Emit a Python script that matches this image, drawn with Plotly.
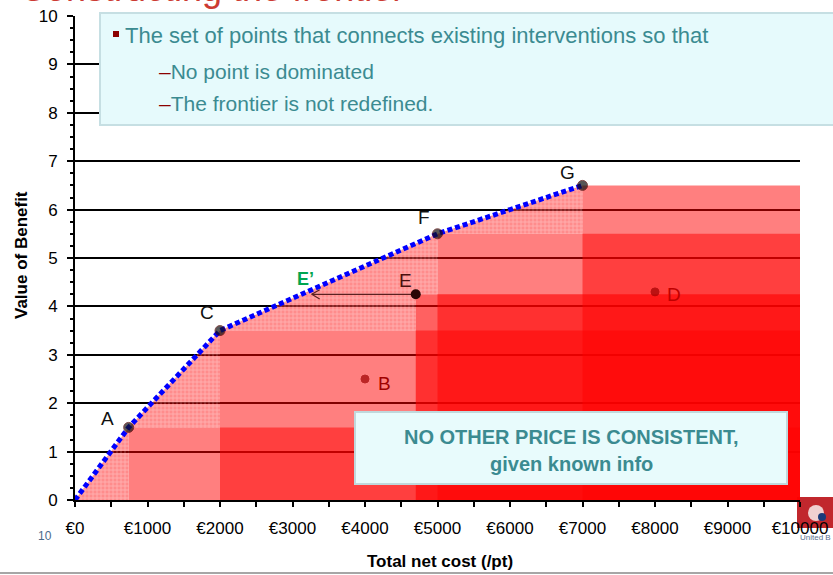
import plotly.graph_objects as go

# ---------------- data ----------------
point_labels = ["A", "B", "C", "D", "E", "F", "G"]
point_cost = [740, 4000, 2000, 8000, 4700, 5000, 7000]
point_benefit = [1.5, 2.5, 3.5, 4.3, 4.25, 5.5, 6.5]
point_on_frontier = [True, False, True, False, False, True, True]

frontier_cost = [0, 740, 2000, 5000, 7000]
frontier_benefit = [0, 1.5, 3.5, 5.5, 6.5]

# points whose dominated region is shaded, with shade strength
region_labels = ["A", "C", "E", "F", "G"]
region_opacity = [0.5, 0.5, 0.62, 0.5, 0.5]

e_prime_cost = 3265  # where E is projected onto the frontier

x_tick_vals = [0, 1000, 2000, 3000, 4000, 5000, 6000, 7000, 8000, 9000, 10000]
x_tick_text = ["€0", "€1000", "€2000", "€3000", "€4000", "€5000", "€6000",
               "€7000", "€8000", "€9000", "€10000"]
y_tick_vals = [0, 1, 2, 3, 4, 5, 6, 7, 8, 9, 10]

X_MAX = 10000
Y_MAX = 10

# ---------------- layout helpers (pixel -> paper) ----------------
W, H = 833, 575
PL, PR, PT, PB = 75, 800, 16, 500


def fx(px):
    return (px - PL) / (PR - PL)


def fy(py):
    return (PB - py) / (PB - PT)


FONT = "Arial, Liberation Sans, sans-serif"
TEAL = "#3b8b91"
DARKRED = "#8b0000"

fig = go.Figure()

# dominated rectangles
pt = dict(zip(point_labels, zip(point_cost, point_benefit)))
for lab, op in zip(region_labels, region_opacity):
    cx, by = pt[lab]
    fig.add_trace(go.Scatter(
        x=[cx, X_MAX, X_MAX, cx, cx], y=[0, 0, by, by, 0],
        mode="lines", line=dict(width=0), fill="toself",
        fillcolor=f"rgba(255,0,0,{op})", hoverinfo="skip", showlegend=False))

# checkered area: under frontier and above the staircase of shaded regions
steps = sorted(pt[l] for l in region_labels)
poly_x = list(frontier_cost)
poly_y = list(frontier_benefit)
for i in range(len(steps) - 1, -1, -1):
    cx, by = steps[i]
    prev_b = steps[i - 1][1] if i > 0 else 0
    poly_x += [cx, cx]
    poly_y += [by, prev_b]
poly_x += [0]
poly_y += [0]
fig.add_trace(go.Scatter(
    x=poly_x, y=poly_y, mode="lines", line=dict(width=0), fill="toself",
    fillcolor="rgba(255,0,0,0.45)",
    fillpattern=dict(shape="+", bgcolor="rgba(255,0,0,0.45)",
                     fgcolor="rgba(255,255,255,0.7)", size=4, solidity=0.35),
    hoverinfo="skip", showlegend=False))

# frontier
fig.add_trace(go.Scatter(
    x=frontier_cost, y=frontier_benefit, mode="lines",
    line=dict(color="#0000ff", width=5, dash="5px,3px"),
    hoverinfo="skip", showlegend=False))

# E -> E' arrow
ex, ey = pt["E"]
fig.add_trace(go.Scatter(
    x=[ex, e_prime_cost, None, e_prime_cost + 110, e_prime_cost, e_prime_cost + 110],
    y=[ey, ey, None, ey + 0.095, ey, ey - 0.095],
    mode="lines", line=dict(color="#5a2020", width=1.2),
    hoverinfo="skip", showlegend=False))

# points
fig.add_trace(go.Scatter(
    x=point_cost, y=point_benefit, mode="markers",
    marker=dict(size=[10 if f else 8 for f in point_on_frontier],
                color=["#111111" if f else "#a00000" for f in point_on_frontier],
                line=dict(width=1, color=["#500000" if f else "#a00000" for f in point_on_frontier])),
    hoverinfo="skip", showlegend=False))
fig.add_trace(go.Scatter(
    x=[pt["E"][0]], y=[pt["E"][1]], mode="markers",
    marker=dict(size=10, color="#2a0505"), hoverinfo="skip", showlegend=False))

# point labels
label_style = {
    "A": (-21, 9, "#111111"),
    "B": (19, -4, "#a00000"),
    "C": (-13, 18, "#111111"),
    "D": (19, -3, "#c00000"),
    "E": (-10, 14, "#4a1010"),
    "F": (-14, 16, "#111111"),
    "G": (-15, 13, "#111111"),
}
annotations = []
for lab, cx, by in zip(point_labels, point_cost, point_benefit):
    dxs, dys, col = label_style[lab]
    annotations.append(dict(x=cx, y=by, xref="x", yref="y", text=lab,
                            showarrow=False, xshift=dxs, yshift=dys,
                            font=dict(family=FONT, size=19, color=col)))
annotations.append(dict(x=e_prime_cost, y=ey, xref="x", yref="y", text="<b>E’</b>",
                        showarrow=False, xshift=-6, yshift=15,
                        font=dict(family=FONT, size=18, color="#00a550")))

shapes = []
# top text box
shapes.append(dict(type="rect", xref="paper", yref="paper",
                   x0=fx(100), x1=fx(845), y0=fy(125), y1=fy(13),
                   fillcolor="#e6fafc", line=dict(color="#c6dfe3", width=2),
                   layer="above"))
shapes.append(dict(type="rect", xref="paper", yref="paper",
                   x0=fx(113), x1=fx(119), y0=fy(37), y1=fy(31),
                   fillcolor=DARKRED, line=dict(width=0), layer="above"))
annotations.append(dict(x=fx(123), y=fy(36), xref="paper", yref="paper",
                        xanchor="left", yanchor="middle", showarrow=False,
                        text="The set of points that connects existing interventions so that",
                        font=dict(family=FONT, size=22, color=TEAL)))
annotations.append(dict(x=fx(157), y=fy(71), xref="paper", yref="paper",
                        xanchor="left", yanchor="middle", showarrow=False,
                        text=f"<span style='color:{DARKRED}'>–</span>No point is dominated",
                        font=dict(family=FONT, size=21, color=TEAL)))
annotations.append(dict(x=fx(157), y=fy(104), xref="paper", yref="paper",
                        xanchor="left", yanchor="middle", showarrow=False,
                        text=f"<span style='color:{DARKRED}'>–</span>The frontier is not redefined.",
                        font=dict(family=FONT, size=21, color=TEAL)))

# callout box
shapes.append(dict(type="rect", xref="paper", yref="paper",
                   x0=fx(355), x1=fx(787), y0=fy(484), y1=fy(412),
                   fillcolor="#e8fbfc", line=dict(color="#c0d8dc", width=2),
                   layer="above"))
annotations.append(dict(x=fx(571), y=fy(437), xref="paper", yref="paper",
                        xanchor="center", yanchor="middle", showarrow=False,
                        text="<b>NO OTHER PRICE IS CONSISTENT,</b>",
                        font=dict(family=FONT, size=20, color=TEAL)))
annotations.append(dict(x=fx(571), y=fy(464), xref="paper", yref="paper",
                        xanchor="center", yanchor="middle", showarrow=False,
                        text="<b>given known info</b>",
                        font=dict(family=FONT, size=20, color=TEAL)))

# axis titles
annotations.append(dict(x=fx(22), y=fy(255), xref="paper", yref="paper",
                        xanchor="center", yanchor="middle", showarrow=False,
                        textangle=-90, text="<b>Value of Benefit</b>",
                        font=dict(family=FONT, size=17, color="#000000")))
annotations.append(dict(x=fx(440), y=fy(561), xref="paper", yref="paper",
                        xanchor="center", yanchor="middle", showarrow=False,
                        text="<b>Total net cost (/pt)</b>",
                        font=dict(family=FONT, size=17, color="#000000")))

# slide decorations
annotations.append(dict(x=fx(45), y=fy(536), xref="paper", yref="paper",
                        xanchor="center", yanchor="middle", showarrow=False,
                        text="10", font=dict(family=FONT, size=12, color="#4a6a8a")))
annotations.append(dict(x=fx(18), y=fy(-11), xref="paper", yref="paper",
                        xanchor="left", yanchor="middle", showarrow=False,
                        text="Constructing the frontier",
                        font=dict(family=FONT, size=36, color="#cc3b33")))
shapes.append(dict(type="rect", xref="paper", yref="paper",
                   x0=fx(797), x1=fx(836), y0=fy(528), y1=fy(497),
                   fillcolor="#c1272d", line=dict(width=0), layer="below"))
shapes.append(dict(type="circle", xref="paper", yref="paper",
                   x0=fx(808), x1=fx(824), y0=fy(521), y1=fy(505),
                   fillcolor="#f0d0d0", line=dict(width=0), layer="below"))
shapes.append(dict(type="circle", xref="paper", yref="paper",
                   x0=fx(818), x1=fx(826), y0=fy(521), y1=fy(513),
                   fillcolor="#1a3a7a", line=dict(width=0), layer="below"))
annotations.append(dict(x=fx(798), y=fy(537), xref="paper", yref="paper",
                        xanchor="left", yanchor="middle", showarrow=False,
                        text="United B", font=dict(family=FONT, size=8, color="#5a7090")))
shapes.append(dict(type="line", xref="paper", yref="paper",
                   x0=fx(0), x1=fx(833), y0=fy(573), y1=fy(573),
                   line=dict(color="#888888", width=1.5)))

fig.update_layout(
    width=W, height=H,
    margin=dict(l=PL, r=W - PR, t=PT, b=H - PB, autoexpand=False),
    paper_bgcolor="white", plot_bgcolor="white",
    showlegend=False,
    font=dict(family=FONT, color="#000000"),
    shapes=shapes, annotations=annotations,
    xaxis=dict(range=[0, X_MAX], tickvals=x_tick_vals, ticktext=x_tick_text,
               automargin=False,
               showgrid=False, zeroline=False, showline=True, linecolor="black",
               linewidth=2, ticks="outside", ticklen=5, tickwidth=1.5,
               tickcolor="black", ticklabelstandoff=7,
               tickfont=dict(family=FONT, size=17, color="black"),
               minor=dict(dtick=500, ticks="outside", ticklen=5, tickwidth=1.5,
                          tickcolor="black", showgrid=False),
               fixedrange=True),
    yaxis=dict(range=[0, Y_MAX], tickvals=y_tick_vals,
               automargin=False,
               showgrid=True, gridcolor="black", gridwidth=2,
               zeroline=False, showline=True, linecolor="black", linewidth=2,
               ticks="outside", ticklen=6, tickwidth=2, tickcolor="black",
               ticklabelstandoff=6,
               tickfont=dict(family=FONT, size=17, color="black"),
               minor=dict(dtick=0.25, ticks="outside", ticklen=3, tickwidth=1.5,
                          tickcolor="black", showgrid=False),
               fixedrange=True),
)

fig.write_html("out.html",
               config={"displayModeBar": False},
               post_script="document.body.style.margin='0px';document.body.style.overflow='hidden';")
